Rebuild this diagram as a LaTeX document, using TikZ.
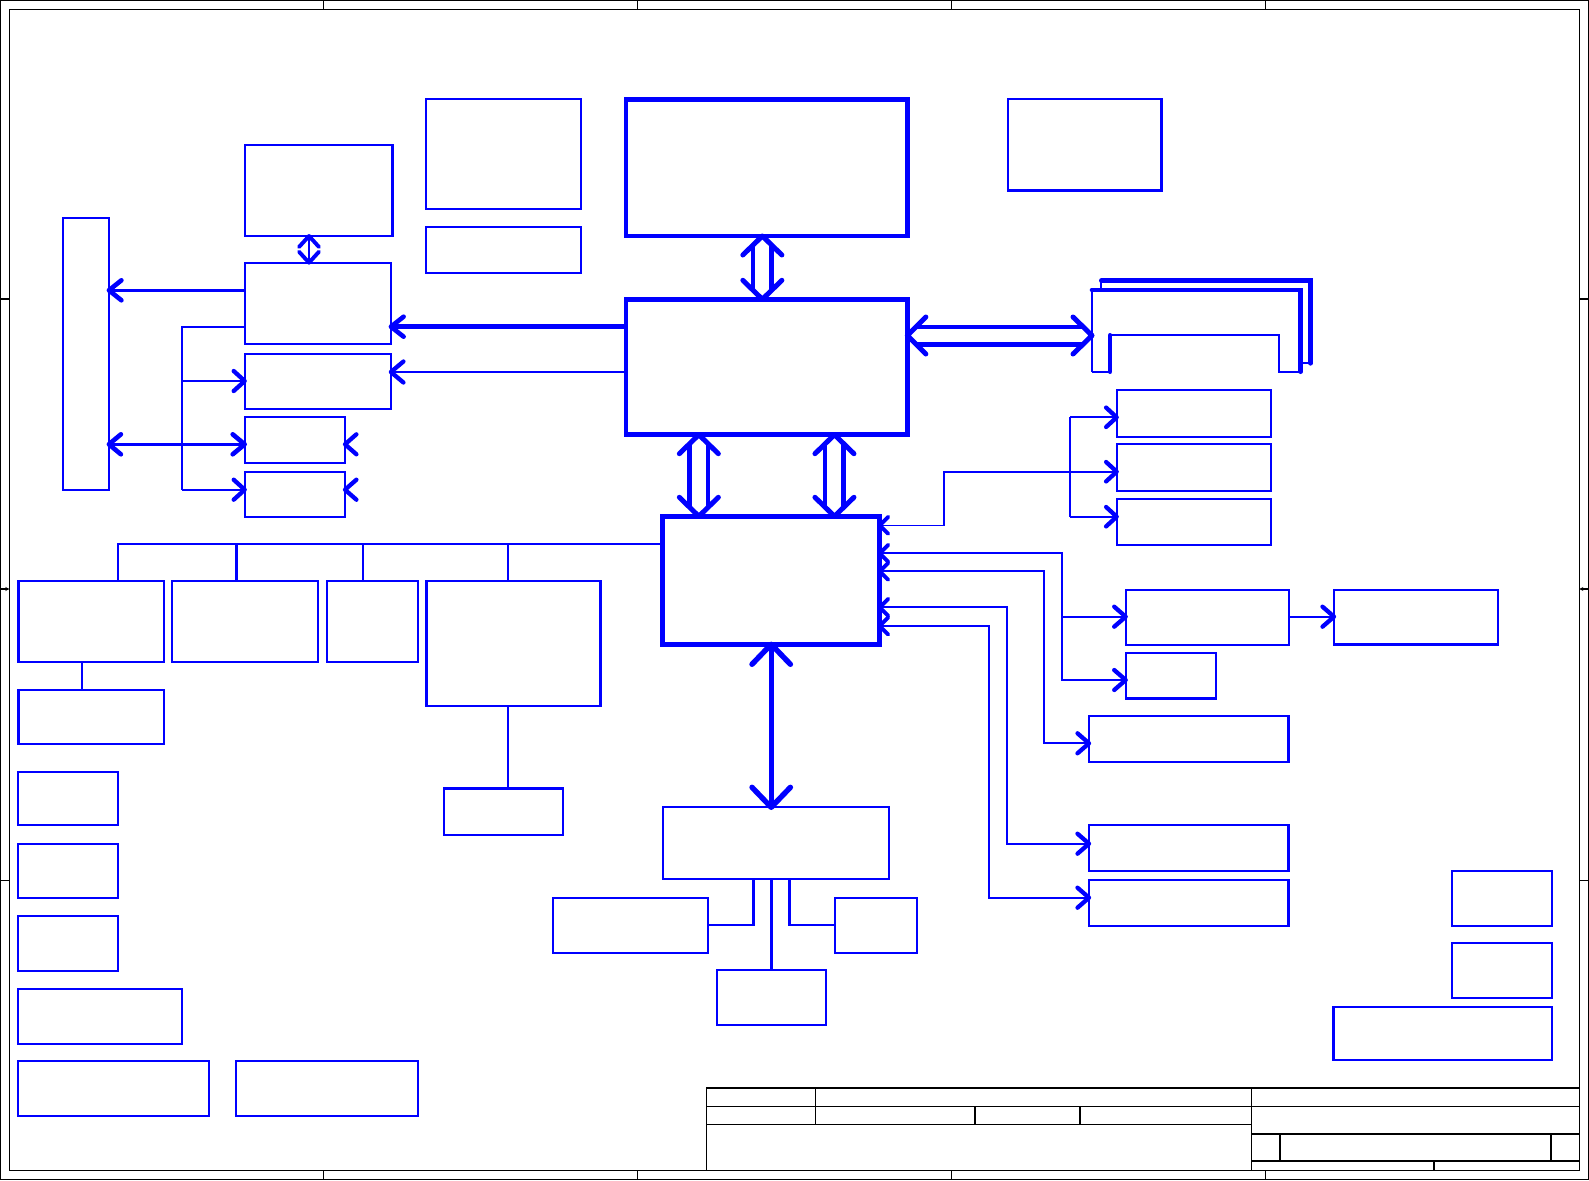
\documentclass[tikz,border=0pt]{standalone}
\usetikzlibrary{calc,fit,arrows.meta}
\definecolor{bl}{RGB}{0,0,255}
\tikzset{
  bx/.style={draw=bl, line width=2.3pt, inner sep=0pt, outer sep=0pt, rectangle},
  bxT/.style={bx, line width=4.8pt},
  ln/.style={draw=bl, line width=2.1pt},
  lnT/.style={draw=bl, line width=2.7pt},
  lnF/.style={draw=bl, line width=1.6pt},
  lnW/.style={draw=bl, line width=4.6pt},
  lnX/.style={draw=bl, line width=5.3pt},
  blk/.style={draw=black, line width=1.2pt},
  chev/.style={draw=bl, line width=4.3pt, line cap=round, line join=round},
  chevS/.style={chev, line width=3.9pt},
  chevB/.style={chev, line width=4.6pt},
  chevX/.style={chev, line width=5.4pt},
  dblline/.style={draw=bl, line width=4.4pt},
  dblchev/.style={draw=bl, line width=5pt, line cap=round, line join=round},
}
% chevron pointing horizontally: apex #2, wings at (+#3, +-#4)
\newcommand{\chH}[4][chev]{\draw[#1] ($(#2)+(#3,-#4)$) -- (#2) -- ($(#2)+(#3,#4)$);}
% chevron pointing vertically: apex #2, wings at (+-#4, +#3)
\newcommand{\chV}[4][chev]{\draw[#1] ($(#2)+(-#4,#3)$) -- (#2) -- ($(#2)+(#4,#3)$);}
\newcommand{\dblV}[2]{%
  \draw[dblline] ($(#1)+(-9.2,9)$) -- ($(#2)+(-9.2,-9)$);
  \draw[dblline] ($(#1)+(9.2,9)$) -- ($(#2)+(9.2,-9)$);
  \draw[dblchev] ($(#1)+(-19.5,19)$) -- (#1) -- ($(#1)+(19.5,19)$);
  \draw[dblchev] ($(#2)+(-19.5,-19)$) -- (#2) -- ($(#2)+(19.5,-19)$);}
\newcommand{\dblH}[2]{%
  \draw[dblline] ($(#1)+(9,-8.8)$) -- ($(#2)+(-9,-8.8)$);
  \draw[dblline] ($(#1)+(9,8.8)$) -- ($(#2)+(-9,8.8)$);
  \draw[dblchev] ($(#1)+(18.5,-18.5)$) -- (#1) -- ($(#1)+(18.5,18.5)$);
  \draw[dblchev] ($(#2)+(-19,-18.5)$) -- (#2) -- ($(#2)+(-19,18.5)$);}
\begin{document}
\begin{tikzpicture}[x=1pt,y=-1pt]
\useasboundingbox (0,0) rectangle (1589,1180);
% frame
\draw[blk] (0.6,0.6) rectangle (1588.4,1179.4);
\draw[blk] (9.3,9.3) rectangle (1579.3,1170.3);
\foreach \x in {323.3,637.4,951.6,1265.7} {\draw[blk] (\x,0.6) -- (\x,9.3); \draw[blk] (\x,1170.3) -- (\x,1179.4);}
\foreach \y in {299,880.7} {\draw[blk] (0.6,\y) -- (9.3,\y); \draw[blk] (1579.3,\y) -- (1588.4,\y);}
\draw[blk,-{Stealth[length=4pt,width=4pt]}] (0.6,589) -- (9.3,589);
\draw[blk,-{Stealth[length=4pt,width=4pt]}] (1588.4,589) -- (1579.3,589);
% title block
\draw[blk] (706.4,1088) rectangle (1579.3,1170.3);
\draw[blk] (706.4,1106.8) -- (1579.3,1106.8);
\draw[blk] (706.4,1124.3) -- (1251.6,1124.3);
\draw[blk] (1251.6,1088) -- (1251.6,1170.3);
\draw[blk] (815.8,1088) -- (815.8,1124.3);
\draw[blk] (975,1106.8) -- (975,1124.3);
\draw[blk] (1080,1106.8) -- (1080,1124.3);
\draw[blk] (1251.6,1134) -- (1579.3,1134);
\draw[blk] (1280,1134) -- (1280,1161);
\draw[blk] (1551,1134) -- (1551,1161);
\draw[blk] (1251.6,1161) -- (1579.3,1161);
\draw[blk] (1434,1161) -- (1434,1170.3);
% main blocks
\node[bxT, fit={(626,99.3) (907.3,236)}] (cpu) {};
\node[bxT, fit={(626,299.3) (907.3,434.7)}] (nb) {};
\node[bxT, fit={(662.7,516.3) (879.7,644.3)}] (sb) {};
% left blocks
\node[bx, fit={(244.7,145) (392.5,236)}] (A) {};
\node[bx, fit={(244.7,262.7) (390.9,344.3)}] (B) {};
\node[bx, fit={(244.7,354) (390.9,409)}] (C) {};
\node[bx, fit={(244.7,417.3) (345,462.7)}] (D) {};
\node[bx, fit={(244.7,472) (345,516.7)}] (E) {};
\node[bx, fit={(63,217.7) (108.9,490)}] (tall) {};
\node[bx, fit={(426,99.3) (580.8,209)}] (F) {};
\node[bx, fit={(426,226.7) (580.8,272.7)}] (G) {};
\node[bx, fit={(1008.3,99.3) (1161.4,190.5)}] (S) {};
% right blocks
\node[bx, fit={(1116.7,390) (1271,436.7)}] (H1) {};
\node[bx, fit={(1116.7,444) (1271,490.7)}] (H2) {};
\node[bx, fit={(1116.7,498.7) (1271,544.7)}] (H3) {};
\node[bx, fit={(1125.7,590) (1288.7,645)}] (I1) {};
\node[bx, fit={(1125.7,652.7) (1216,698.5)}] (I2) {};
\node[bx, fit={(1334,590) (1497.8,644.5)}] (K) {};
\node[bx, fit={(1089,716.3) (1288.6,761.7)}] (J1) {};
\node[bx, fit={(1089,825.3) (1288.6,870.7)}] (J2) {};
\node[bx, fit={(1089,880) (1288.6,925.7)}] (J3) {};
\node[bx, fit={(1452.1,871) (1551.9,925.7)}] (L1) {};
\node[bx, fit={(1452.1,943.3) (1551.9,997.7)}] (L2) {};
\node[bx, fit={(1333.4,1007) (1551.9,1060.3)}] (L3) {};
% bottom middle
\node[bx, fit={(662.7,807.3) (889,879.3)}] (Q) {};
\node[bx, fit={(553.3,897.7) (708,952.7)}] (R1) {};
\node[bx, fit={(835,897.7) (916.7,952.7)}] (R2) {};
\node[bx, fit={(717,970) (825.7,1024.7)}] (R3) {};
% bottom left
\node[bx, fit={(18.6,581) (163.7,662.3)}] (M1) {};
\node[bx, fit={(172,581) (318.3,662.3)}] (M2) {};
\node[bx, fit={(327,581) (418,662.3)}] (M3) {};
\node[bx, fit={(426.6,581) (600.6,706.3)}] (M4) {};
\node[bx, fit={(18.6,690) (163.7,743.7)}] (N1) {};
\node[bx, fit={(444,788.5) (563.3,835)}] (O) {};
\node[bx, fit={(18.3,771.7) (118,825.3)}] (P1) {};
\node[bx, fit={(18.3,844) (118,897.7)}] (P2) {};
\node[bx, fit={(18.3,916) (118,970.7)}] (P3) {};
\node[bx, fit={(18.3,989) (181.7,1043.7)}] (P4) {};
\node[bx, fit={(18.3,1061) (209,1116)}] (P5) {};
\node[bx, fit={(236,1061) (418,1116)}] (P6) {};
% DIMM sockets
\draw[ln] (1092,371.7) -- (1092,290);
\draw[lnW, line cap=round] (1092,290) -- (1300.7,290) -- (1300.7,371.7);
\draw[ln] (1300.7,371.7) -- (1279.3,371.7) -- (1279.3,335.3) -- (1110,335.3);
\draw[lnW, line cap=round] (1110,335.3) -- (1110,371.7);
\draw[ln] (1110,371.7) -- (1092,371.7);
\draw[ln] (1101.3,290) -- (1101.3,280.7);
\draw[lnW, line cap=round] (1101.3,280.7) -- (1310.7,280.7) -- (1310.7,363.3);
\draw[ln] (1310.7,363.3) -- (1298,363.3);
\coordinate (dimm) at (1092,335.5);
% left side connectors
\draw[ln] (309,0 |- A.south) coordinate (a1) -- (309,0 |- B.north) coordinate (a2);
\chV[chevS]{a1}{11}{10}
\chV[chevS]{a2}{-11}{10}
\draw[lnT, shorten >=1.5pt] (B.west |- 0,290.3) -- (tall.east |- 0,290.3) coordinate (e1);
\chH[chevB]{e1}{12.5}{10}
\draw[ln] (B.west |- 0,326.7) -| (181.6,489.7);
\draw[ln] (181.6,381) -- (C.west |- 0,381) coordinate (e2);
\chH{e2}{-11}{10}
\draw[ln] (181.6,489.7) -- (E.west |- 0,489.7) coordinate (e3);
\chH{e3}{-11}{10}
\draw[lnT, shorten <=1.5pt, shorten >=1.5pt] (tall.east |- 0,444.3) coordinate (e4) -- (D.west |- 0,444.3) coordinate (e5);
\chH[chevB]{e4}{12}{10}
\chH[chevB]{e5}{-12}{10}
\coordinate (e6) at (D.east |- 0,444.3);
\chH{e6}{11.4}{10}
\coordinate (e7) at (E.east |- 0,489.7);
\chH{e7}{11.4}{10}
\draw[lnX, shorten >=2.5pt] (nb.west |- 0,326.7) -- (B.east |- 0,326.7) coordinate (e8);
\chH[chevB]{e8}{12.7}{10}
\draw[lnF] (nb.west |- 0,372) -- (C.east |- 0,372) coordinate (e9);
\chH{e9}{12.5}{10.5}
% double buses
\coordinate (cn1) at ($(cpu.south)+(-4.3,0)$);
\coordinate (cn2) at ($(nb.north)+(-4.3,0)$);
\dblV{cn1}{cn2}
\coordinate (ns1) at ($(nb.south)+(-67.8,0)$);
\coordinate (ns2) at (ns1 |- sb.north);
\dblV{ns1}{ns2}
\coordinate (ns3) at ($(nb.south)+(67.8,0)$);
\coordinate (ns4) at (ns3 |- sb.north);
\dblV{ns3}{ns4}
\coordinate (nd1) at (nb.east |- dimm);
\dblH{nd1}{dimm}
% SB left bus
\draw[ln] (sb.west |- 0,544.3) -- (117.8,544.3) -- (117.8,0 |- M1.north);
\draw[lnT] (236.5,544.3) -- (236.5,0 |- M2.north);
\draw[lnF] (363,544.3) -- (363,0 |- M3.north);
\draw[lnT] (508,544.3) -- (508,0 |- M4.north);
\draw[lnF] (81.9,0 |- M1.south) -- (81.9,0 |- N1.north);
\draw[lnT] (508,0 |- M4.south) -- (508,0 |- O.north);
% SB to Q
\draw[lnW, shorten <=2pt, shorten >=2pt] (sb.south) coordinate (q1) -- (sb.south |- Q.north) coordinate (q2);
\chV[chevX]{q1}{20}{19.2}
\chV[chevX]{q2}{-20}{19.2}
\draw[lnT] (753.3,0 |- Q.south) |- (R1.east |- 0,925);
\draw[lnT] (789.3,0 |- Q.south) |- (R2.west |- 0,925);
\draw[lnT] (sb.south |- Q.south) -- (sb.south |- R3.north);
% SB right side
\draw[lnF] (sb.east |- 0,525.3) coordinate (s1) -| (944,471.7) -- (H2.west |- 0,471.7) coordinate (h2);
\draw[ln] (1070,417.3) -- (1070,516.7);
\draw[ln] (1070,417.3) -- (H1.west |- 0,417.3) coordinate (h1);
\draw[ln] (1070,516.7) -- (H3.west |- 0,516.7) coordinate (h3);
\draw[ln] (sb.east |- 0,553.3) coordinate (s2) -| (1061.7,680) -- (I2.west |- 0,680) coordinate (i2);
\draw[ln] (1061.7,616.7) -- (I1.west |- 0,616.7) coordinate (i1);
\draw[ln] (I1.east |- 0,616.7) -- (K.west |- 0,616.7) coordinate (k1);
\draw[ln] (sb.east |- 0,571.3) coordinate (s3) -| (1044,743.3) -- (J1.west |- 0,743.3) coordinate (j1);
\draw[ln] (sb.east |- 0,607.3) coordinate (s4) -| (1006.7,843.7) -- (J2.west |- 0,843.7) coordinate (j2);
\draw[lnF] (sb.east |- 0,626) coordinate (s5) -| (989,897.7) -- (J3.west |- 0,897.7) coordinate (j3);
\foreach \cc in {s1,s2,s3,s4,s5} {\chH[chevS]{\cc}{8.5}{8.5}}
\foreach \cc in {h1,h2,h3} {\chH{\cc}{-10.6}{9.7}}
\foreach \cc in {i1,i2,k1,j1,j2,j3} {\chH{\cc}{-11.5}{10}}
\end{tikzpicture}
\end{document}
